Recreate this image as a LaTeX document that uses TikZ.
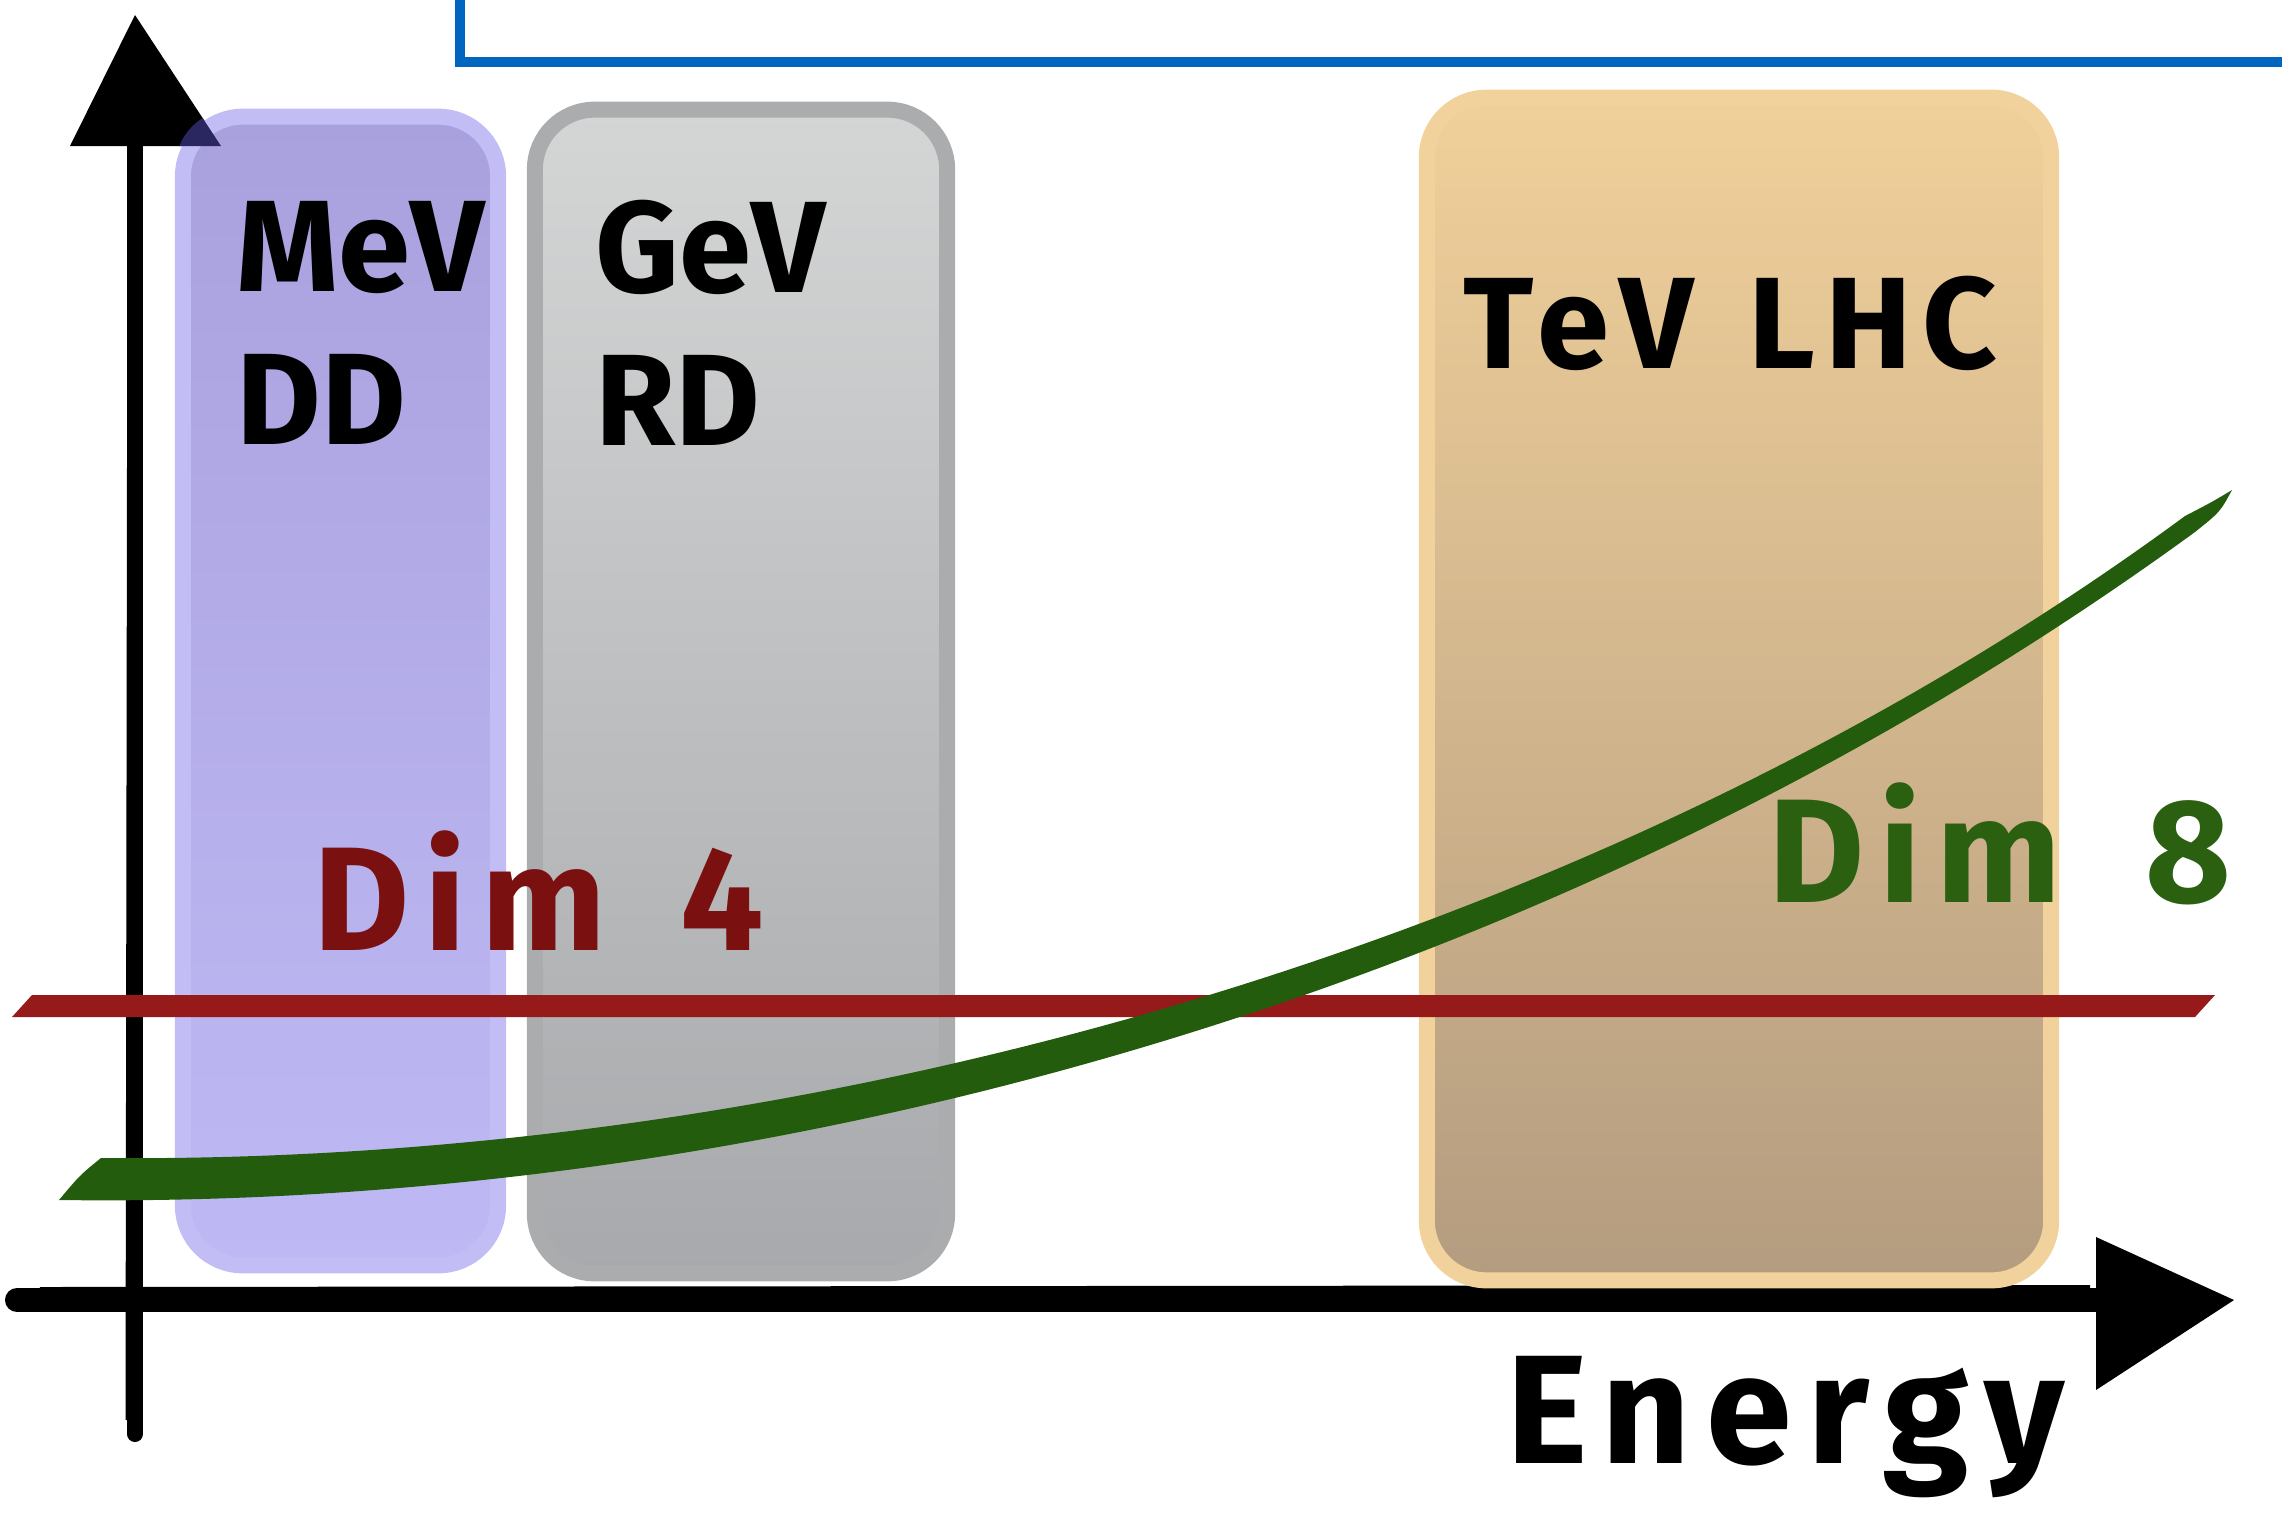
\documentclass[tikz,border=0pt]{standalone}
\usepackage{fontspec}
\setmainfont{Fira Sans}
\usetikzlibrary{positioning}
\definecolor{mevtop}{HTML}{A9A1DE}\definecolor{mevbot}{HTML}{BEB9F4}\definecolor{mevrim}{HTML}{C2BEF5}
\definecolor{gevtop}{HTML}{D4D5D5}\definecolor{gevbot}{HTML}{A8A9AC}\definecolor{gevrim}{HTML}{ABACAE}
\definecolor{tevtop}{HTML}{F0D09A}\definecolor{tevbot}{HTML}{B49C80}\definecolor{tevrim}{HTML}{F2D29C}
\definecolor{dimred}{HTML}{961A1A}\definecolor{dimredtxt}{HTML}{7A1010}
\definecolor{dimgreen}{HTML}{245C0E}\definecolor{dimgreentxt}{HTML}{2A6010}
\definecolor{framebl}{HTML}{0066C0}\definecolor{navy}{HTML}{2A2660}
\tikzset{bx/.style={draw=#1rim,top color=#1top,bottom color=#1bot,rounded corners=17pt,line width=1.6mm,inner sep=0pt},
 lb/.style={font=\bfseries\fontsize{37}{40}\selectfont,anchor=base west,inner sep=0pt,align=left},
 wide/.style 2 args={font=\bfseries\fontsize{#1}{44}\selectfont\addfontfeatures{LetterSpace=#2}},
 ax/.style={line width=1.6mm,line cap=round}}

\begin{document}
\begin{tikzpicture}[x=0.01cm,y=-0.01cm]
\useasboundingbox (0,0) rectangle (2282,1539);
% corner of the frame above
\draw[framebl,line width=1mm] (460,-20) |- (2300,62);
% axes, rough strokes
\draw[ax] (135,1434) -- (135,140);\draw[line width=.5mm] (128,1420) -- (130,150);
\fill (70,146) -- (135,15) -- (221,146) -- cycle;
\draw[ax,line width=2.4mm] (17,1300) -- (2100,1300);\draw[line width=.6mm] (40,1290) -- (2090,1288);
\fill (2096,1237) -- (2234,1300) -- (2096,1390) -- cycle;
% energy bands
\node[bx=mev,minimum width=3.15cm,minimum height=11.48cm](mev) at (340.5,691){};
\node[bx=gev,minimum width=4.12cm,minimum height=11.63cm](gev) at (741,691.5){};
\node[bx=tev,minimum width=6.24cm,minimum height=11.82cm](tev) at (1739,689){};
\begin{scope}\clip[rounded corners=17pt] (mev.south west) rectangle (mev.north east);
\fill[navy] (70,146) -- (135,15) -- (221,146) -- cycle;\end{scope}
\node[lb](mevt) at (236,444){MeV\\[.12cm]DD};
\node[lb](gevt) at (595,445){GeV\\[.12cm]RD};
\node[lb,wide={37}{8}](tevt) at (1463,368){TeV\hspace{.55cm}LHC};
% dimension curves
\fill[dimred] (12,1017) -- (32,995) -- (2215,995) -- (2195,1017) -- cycle;
\fill[dimgreen] (59,1200) .. controls (800,1210) and (1580,980) .. (2195,532) .. controls (2220,512) .. (2232,490)
 .. controls (2212,502) .. (2185,516) .. controls (1630,925) and (850,1165) .. (101,1158)
 .. controls (80,1175) .. cycle;
\node[lb,wide={42}{10},text=dimredtxt](dim4) at (313,950){Dim\hspace{.75cm}4};
\node[lb,wide={42}{10},text=dimgreentxt](dim8) at (1768,902){Dim\hspace{.85cm}8};
\node[lb,wide={44}{10}](energy) at (1506,1463){Energy};
\end{tikzpicture}
\end{document}
